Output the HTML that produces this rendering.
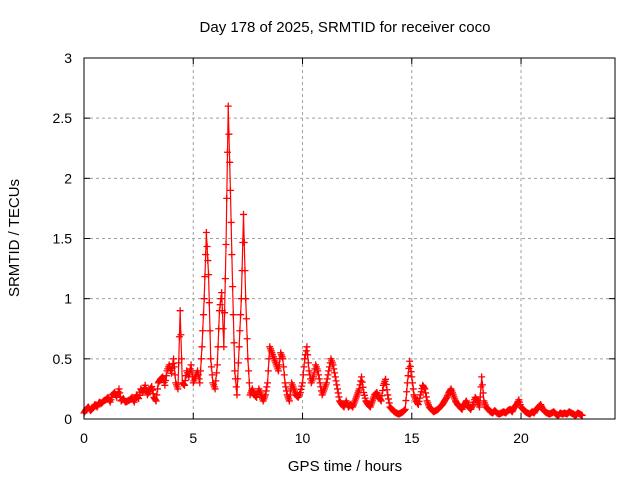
<!DOCTYPE html>
<html><head><meta charset="utf-8"><style>
body{margin:0;background:#fff;}
svg{display:block;font-family:"Liberation Sans",sans-serif;}
</style></head><body>
<svg id="chart" width="640" height="480" viewBox="0 0 640 480">
<rect width="640" height="480" fill="#fff"/>
<g id="grid"></g>
<g id="ticks" font-size="14" fill="#000"></g>
<g id="marks"></g>
<rect x="84" y="58" width="531" height="361" fill="none" stroke="#000" stroke-width="1"/>
<text x="345" y="32" text-anchor="middle" font-size="15">Day 178 of 2025, SRMTID for receiver coco</text>
<text x="345" y="471" text-anchor="middle" font-size="15">GPS time / hours</text>
<text transform="translate(19,238) rotate(-90)" text-anchor="middle" font-size="15">SRMTID / TECUs</text>
</svg>
<script>
const xTicks=[0,5,10,15,20];
const yTicks=[0,0.5,1,1.5,2,2.5,3];
const yTickLabels=["0","0.5","1","1.5","2","2.5","3"];
const values=[
0.05,0.08,0.1,0.07,0.09,0.12,0.1,0.14,0.13,0.15,
0.16,0.18,0.14,0.2,0.22,0.18,0.25,0.15,0.17,0.14,
0.15,0.16,0.18,0.14,0.2,0.17,0.25,0.22,0.28,0.2,
0.24,0.27,0.18,0.15,0.3,0.33,0.35,0.28,0.4,0.45,
0.38,0.5,0.3,0.25,0.9,0.3,0.28,0.4,0.35,0.45,
0.3,0.35,0.4,0.3,0.6,1.0,1.55,1.2,0.5,0.3,0.25,0.45,0.9,
1.05,0.6,1.45,2.6,1.9,1.1,0.4,0.2,0.6,1.0,
1.7,1.0,0.5,0.2,0.25,0.2,0.18,0.25,0.2,0.15,
0.2,0.3,0.6,0.55,0.5,0.45,0.4,0.55,0.5,0.3,
0.2,0.15,0.3,0.25,0.2,0.18,0.22,0.3,0.5,0.6,
0.4,0.3,0.35,0.45,0.4,0.3,0.2,0.25,0.3,0.4,
0.5,0.45,0.35,0.25,0.15,0.12,0.1,0.15,0.1,0.12,
0.1,0.15,0.2,0.25,0.35,0.22,0.15,
0.12,0.1,0.15,0.2,0.22,0.18,0.15,0.28,0.33,0.2,
0.1,0.08,0.06,0.05,0.04,0.05,0.06,0.08,0.3,0.48,
0.35,0.2,0.15,0.12,0.2,0.28,0.25,0.15,0.1,0.08,
0.06,0.07,0.08,0.1,0.12,0.15,0.18,0.22,0.25,0.2,
0.15,0.12,0.1,0.08,0.12,0.15,0.1,0.08,0.12,0.18,
0.15,0.1,0.35,0.15,0.1,0.08,0.06,0.05,0.07,0.05,
0.04,0.05,0.06,0.05,0.07,0.08,0.06,0.1,0.12,0.16,
0.1,0.08,0.06,0.05,0.04,0.06,0.05,0.08,0.1,0.12,
0.08,0.06,0.05,0.04,0.05,0.06,0.04,0.03,0.05,0.04,
0.05,0.04,0.06,0.05,0.04,0.03,0.05,0.04,0.03
];
const hours=values.map((v,i)=>i*0.1);
const X0=84,X1=615,Y0=419,Y1=58,XMAX=24.3,YMAX=3;
const xs=h=>X0+(h/XMAX)*(X1-X0);
const ys=v=>Y0-(v/YMAX)*(Y0-Y1);
const NS="http://www.w3.org/2000/svg";
const grid=document.getElementById('grid'),ticks=document.getElementById('ticks'),marks=document.getElementById('marks');
function mk(tag,attrs,parent){const e=document.createElementNS(NS,tag);for(const k in attrs)e.setAttribute(k,attrs[k]);parent.appendChild(e);return e;}
xTicks.forEach(t=>{
  const x=xs(t);
  if(t>0){const g=mk('line',{x1:x,x2:x,y1:Y1,y2:Y0,stroke:'#a0a0a0','stroke-dasharray':'3,3'},grid);
  
  }
  mk('line',{x1:x,x2:x,y1:Y0,y2:Y0-6,stroke:'#000'},grid);
  mk('line',{x1:x,x2:x,y1:Y1,y2:Y1+6,stroke:'#000'},grid);
  const l=mk('text',{x:x,y:443,'text-anchor':'middle'},ticks);l.textContent=t;
  
  
});
yTicks.forEach((t,i)=>{
  const y=ys(t);
  if(t>0&&t<YMAX){const g=mk('line',{x1:X0,x2:X1,y1:y,y2:y,stroke:'#a0a0a0','stroke-dasharray':'3,3'},grid);
  
  }
  mk('line',{x1:X0,x2:X0+6,y1:y,y2:y,stroke:'#000'},grid);
  mk('line',{x1:X1,x2:X1-6,y1:y,y2:y,stroke:'#000'},grid);
  const l=mk('text',{x:72,y:y+5,'text-anchor':'end'},ticks);l.textContent=yTickLabels[i];
  
  
});
const pts=hours.map((h,i)=>xs(h)+','+ys(values[i])).join(' ');
const pl=mk('polyline',{points:pts,fill:'none',stroke:'#ff0000','stroke-width':1.2},marks);


function plus(x,y){
  const p=mk('path',{d:`M${x-3.5},${y}h7M${x},${y-3.5}v7`,stroke:'#ff0000','stroke-width':1.3,fill:'none'},marks);
  
  
}
for(let i=0;i<values.length;i++){
  plus(xs(hours[i]),ys(values[i]));
  if(i+1<values.length){
    for(let k=1;k<3;k++){const f=k/3;
      plus(xs(hours[i]+(hours[i+1]-hours[i])*f),ys(values[i]+(values[i+1]-values[i])*f));}
  }
}
</script>
</body></html>
